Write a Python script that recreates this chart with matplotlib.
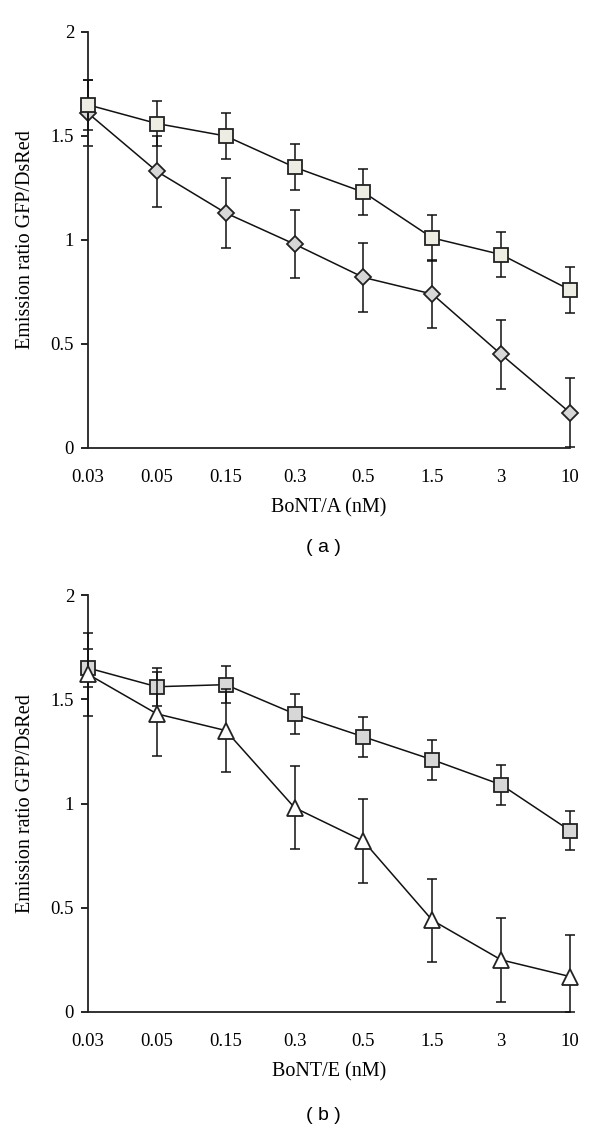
import matplotlib
matplotlib.use("Agg")
import matplotlib.pyplot as plt
import numpy as np

conc_labels = ['0.03', '0.05', '0.15', '0.3', '0.5', '1.5', '3', '10']

a_square = [1.65, 1.56, 1.50, 1.35, 1.23, 1.01, 0.93, 0.76]
a_square_err = [0.12, 0.11, 0.11, 0.11, 0.11, 0.11, 0.11, 0.11]
a_diamond = [1.61, 1.33, 1.13, 0.98, 0.82, 0.74, 0.45, 0.17]
a_diamond_err = [0.16, 0.17, 0.17, 0.165, 0.165, 0.165, 0.165, 0.165]

b_square = [1.65, 1.56, 1.57, 1.43, 1.32, 1.21, 1.09, 0.87]
b_square_err = [0.09, 0.09, 0.09, 0.095, 0.095, 0.095, 0.095, 0.095]
b_triangle = [1.62, 1.43, 1.35, 0.98, 0.82, 0.44, 0.25, 0.17]
b_triangle_err = [0.20, 0.20, 0.20, 0.20, 0.20, 0.20, 0.20, 0.20]

yticks = [0, 0.5, 1, 1.5, 2]
ytick_labels = ['0', '0.5', '1', '1.5', '2']

plt.rcParams['font.family'] = ['Liberation Serif', 'DejaVu Serif']

fig = plt.figure(figsize=(6, 11.28), dpi=100)

EDGE = '#222222'


def series(ax, y, err, marker, ms, fc, z):
    x = np.arange(len(y))
    y = np.asarray(y)
    err = np.asarray(err)
    lower = np.minimum(err, y)  # bars stop at the axis floor
    ax.errorbar(x, y, yerr=[lower, err], fmt='none', ecolor='#111111',
                elinewidth=1.1, capsize=3.4, capthick=1.1, zorder=z,
                clip_on=False)
    ax.plot(x, y, color='#111111', lw=1.1, marker=marker, ms=ms,
            markerfacecolor=fc, markeredgecolor=EDGE, markeredgewidth=1.3,
            zorder=z + 0.5, clip_on=False)


def style(ax, xlabel):
    ax.set_xlim(0, len(conc_labels) - 1)
    ax.set_ylim(0, 2)
    for s in ['top', 'right']:
        ax.spines[s].set_visible(False)
    for s in ['left', 'bottom']:
        ax.spines[s].set_linewidth(1.3)
        ax.spines[s].set_color('#222222')
    ax.set_xticks(np.arange(len(conc_labels)))
    ax.set_xticklabels(conc_labels, fontsize=13.5)
    ax.set_xticks([0], minor=True)
    ax.tick_params(axis='x', which='major', length=0, pad=15)
    ax.tick_params(axis='x', which='minor', length=6, width=1.2, direction='out')
    ax.set_yticks(yticks)
    ax.set_yticklabels(ytick_labels, fontsize=13.5)
    ax.tick_params(axis='y', length=5, width=1.2, direction='out', pad=5)
    ax.set_xlabel(xlabel, fontsize=14.5, labelpad=9)
    ax.set_ylabel('Emission ratio GFP/DsRed', fontsize=14.5, labelpad=11)


ax1 = fig.add_axes([88 / 600, 1 - 448 / 1128, (570 - 88) / 600, (448 - 32) / 1128])
series(ax1, a_diamond, a_diamond_err, 'D', 8.0, '#d7d7d7', 2)
series(ax1, a_square, a_square_err, 's', 10.6, '#eeede3', 3)
style(ax1, 'BoNT/A (nM)')

ax2 = fig.add_axes([88 / 600, 1 - 1012 / 1128, (570 - 88) / 600, (1012 - 595) / 1128])
series(ax2, b_square, b_square_err, 's', 10.6, '#d7d7d7', 2)
series(ax2, b_triangle, b_triangle_err, '^', 11.5, '#ffffff', 3)
style(ax2, 'BoNT/E (nM)')

fig.text(323 / 600, 1 - 548 / 1128, '( a )', ha='center', va='center',
         fontsize=14, family=['Liberation Sans', 'DejaVu Sans'])
fig.text(323 / 600, 1 - 1116 / 1128, '( b )', ha='center', va='center',
         fontsize=14, family=['Liberation Sans', 'DejaVu Sans'])

fig.savefig('out.png', dpi=100)
